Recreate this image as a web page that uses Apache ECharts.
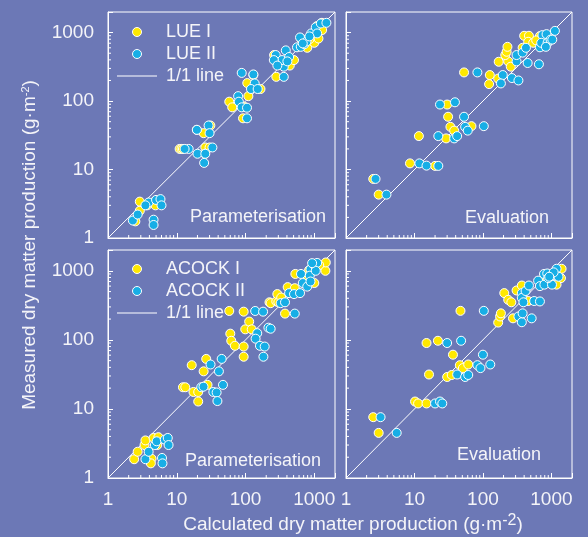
<!DOCTYPE html>
<html>
<head>
<meta charset="utf-8">
<script src="https://cdn.jsdelivr.net/npm/echarts@6/dist/echarts.min.js"></script>
<style>
html,body{margin:0;padding:0;background:#6c78b6;}
#chart{width:588px;height:537px;}
</style>
</head>
<body>
<div id="chart"></div>
<script>
// ---- Data (calculated x, measured y) ----
const lueParamI = [[2.9,3.4],[2.9,2.5],[2.5,1.75],[4.9,3.5],[4.9,3.0],[3.7,3.0],
  [11,20],[11.7,20],[12.3,20],[26,21],[30,21],[24.6,34],[19.6,38],[30.8,44],[25.6,17],
  [58,98],[64,81],[92,56],[110,118],[106,183],[130,240],[165,150],[95,83],
  [280,226],[440,330],[507,397],[324,380],[260,470],
  [790,600],[1000,710],[1150,820],[1290,1390],[1100,1250],[850,800],[640,820],[1300,1090]];
const lueParamII = [[2.3,1.8],[2.7,2.2],[3.9,3.3],[3.5,3.0],[5.0,3.6],[5.8,3.7],[6.0,3.0],[4.6,1.85],[4.6,1.55],
  [14.9,20],[13,20],[19.6,38],[29,44],[30,34],[33,21],[20,17],[25,12.5],[26,17],
  [78,118],[80,98],[88,81],[105,80],[105,56],[88,258],[130,245],[136,181],[120,150],[150,150],
  [360,226],[360,318],[275,470],[340,397],[258,397],[290,330],[385,550],[430,440],[406,380],
  [620,850],[560,610],[636,620],[720,680],[770,740],[900,973],[1050,1200],[1245,1360],[1500,1390],[1100,973],[850,880],[680,695]];

const lueEvalI = [[2.5,7.3],[3.0,4.3],[8.6,12.3],[20,11.3],[11.6,30.8],[29,28.5],[33.5,42],[38,37],[31,59],[68,43],[30,89],
  [53,262],[126,240],[123,177],[167,213],[170,375],[234,380],[212,470],[222,525],[228,620],[255,318],[380,600],
  [400,898],[470,898],[458,735],[543,710],[680,890],[600,770],[810,790]];
const lueEvalII = [[2.7,7.3],[3.9,4.3],[11.8,12.3],[15,11.4],[22.3,11.3],[22.3,30.8],[38,28.5],[42,30.8],[53,59],[55,42],[60,37],[103,43],
  [23.6,89],[39,96],[83,262],[195,240],[183,181],[265,217],[330,200],[310,380],[310,470],[380,510],[425,600],[450,360],[657,345],
  [740,920],[850,950],[680,610],[710,710],[880,710],[973,790],[1125,1060],[1030,790],[830,620]];

const acockParamI = [[2.4,1.87],[2.7,2.4],[3.4,3.0],[3.5,3.5],[4.3,1.9],[4.2,1.63],[4.6,3.8],[5.4,3.9],[5.2,3.0],
  [12.3,20.6],[13.3,20.6],[16.5,43],[17.5,17.6],[20.5,12.8],[20.5,17.6],[24.6,35],[26.8,53],[28,22.3],
  [60,123],[62,97],[70,82],[94,80],[94,57],[99,142],[113,184],[123,142],[58,262],[94,256],
  [223,350],[232,340],[280,360],[290,460],[300,350],[330,410],[375,240],[410,580],[520,560],[530,900],
  [800,850],[1000,665],[1450,1000],[1470,1320],[840,1020],[1180,1210]];
const acockParamII = [[3.5,1.87],[3.9,2.4],[4.8,3.0],[5.1,3.4],[6.7,3.6],[7.4,3.8],[7.6,3.0],[6.1,1.95],[6.2,1.63],
  [22.7,20.6],[24.5,21],[31,44],[34,17.6],[38,17.3],[39,13],[41,35],[45,53],[47,22.3],
  [148,125],[140,104],[162,82],[190,80],[182,57],[215,150],[232,145],[138,262],[180,256],
  [324,340],[375,350],[430,475],[507,460],[520,240],[620,475],[640,900],[680,665],
  [880,1050],[1000,1210],[1100,1300],[860,850],[790,590],[880,700],[1050,1000],[930,1290]];

const acockEvalI = [[2.5,7.6],[3.0,4.5],[10.2,12.8],[11.3,12],[15,12],[16.3,31.5],[30,29],[35,31],
  [36.5,61],[46,43],[51,39],[61,44],[15,90],[22,97],[47,263],
  [167,178],[178,218],[183,242],[275,205],[205,475],[234,380],[260,350],[310,519],[370,612],[458,365],
  [1410,1070],[1380,784],[1190,630],[960,665],[770,700],[1080,875],[850,784]];
const acockEvalII = [[3.2,7.6],[5.5,4.5],[20,12],[23.6,12.8],[25.5,12],[42,31.5],[55,29],[61,31],
  [83,43],[92,39],[128,44],[100,61],[30,90],[48,97],[103,263],
  [330,218],[370,180],[380,242],[515,205],[370,475],[370,405],[390,350],[420,510],[470,612],[560,365],[680,360],
  [1190,1070],[780,900],[870,915],[640,720],[680,600],[790,630],[1020,630],[900,784],[990,840],[1270,820],[1080,950],[930,820]];

const oneToOne = [[1,1],[2000,2000]];
const axisMin = 1, axisMax = 2000;
const minorTicks = [2,3,4,5,6,7,8,9,20,30,40,50,60,70,80,90,200,300,400,500,600,700,800,900];

const names = {
  lue: ['LUE I','LUE II'],
  acock: ['ACOCK I','ACOCK II']
};
const panelLabels = ['Parameterisation','Evaluation','Parameterisation','Evaluation'];

// ---- Styles ----
const FONT = 'Liberation Sans, Arial, sans-serif';
const TXT = '#f4f4f8';
const YELLOW = '#ffe800';
const BLUE = '#17aee6';

const grids = [
  {left:108, top:12, width:227, height:226},
  {left:346, top:12, width:226, height:226},
  {left:108, top:250, width:227, height:228},
  {left:346, top:250, width:226, height:228}
];

function isPow10(v){ const l = Math.log10(v); return Math.abs(l - Math.round(l)) < 1e-6; }

function makeAxis(i, dim, showLabel){
  return {
    type:'log', logBase:10, gridIndex:i, min:axisMin, max:axisMax,
    axisLine:{show:true, lineStyle:{color:'#fff', width:1}},
    axisTick:{show:true, inside:true, length:5, lineStyle:{color:'#fff'}},
    splitLine:{show:false},
    axisLabel:{show:showLabel, color:TXT, fontFamily:FONT, fontSize:19, margin: dim==='x'?12:14,
      showMinLabel:true, showMaxLabel:true,
      formatter:function(v){ return isPow10(v) ? String(Math.round(v)) : ''; }}
  };
}

const xAxes = grids.map((g,i)=>makeAxis(i,'x', i>=2));
const yAxes = grids.map((g,i)=>makeAxis(i,'y', i%2===0));

const panelData = [
  [lueParamI, lueParamII, names.lue],
  [lueEvalI, lueEvalII, names.lue],
  [acockParamI, acockParamII, names.acock],
  [acockEvalI, acockEvalII, names.acock]
];

const series = [];
panelData.forEach((p,i)=>{
  // minor ticks drawn through the axes' own scale
  series.push({
    type:'custom', xAxisIndex:i, yAxisIndex:i, silent:true, clip:false,
    data: minorTicks.map(v=>[v]),
    renderItem:function(params, api){
      const v = api.value(0);
      const px = api.coord([v, axisMin]);
      const py = api.coord([axisMin, v]);
      return {type:'group', children:[
        {type:'line', shape:{x1:px[0], y1:px[1], x2:px[0], y2:px[1]-3}, style:{stroke:'#fff', lineWidth:1}},
        {type:'line', shape:{x1:py[0], y1:py[1], x2:py[0]+3, y2:py[1]}, style:{stroke:'#fff', lineWidth:1}}
      ]};
    }
  });
  series.push({
    name:'1/1 line', type:'line', xAxisIndex:i, yAxisIndex:i, data:oneToOne,
    symbol:'none', showSymbol:false, silent:true, lineStyle:{color:'#fff', width:1}, itemStyle:{color:'#fff'}, z:1
  });
  series.push({
    name:p[2][0], type:'scatter', xAxisIndex:i, yAxisIndex:i, data:p[0],
    symbolSize:9, itemStyle:{color:YELLOW, borderColor:'#fff', borderWidth:1, opacity:1}, z:3
  });
  series.push({
    name:p[2][1], type:'scatter', xAxisIndex:i, yAxisIndex:i, data:p[1],
    symbolSize:9, itemStyle:{color:BLUE, borderColor:'#fff', borderWidth:1, opacity:1}, z:4
  });
});

function legend(top, nm){
  return {
    orient:'vertical', left:117, top:top, padding:0, itemWidth:40, itemHeight:9, itemGap:0,
    selectedMode:false,
    textStyle:{color:TXT, fontFamily:FONT, fontSize:18, lineHeight:22, padding:[0,0,0,4]},
    data:[{name:nm[0], icon:'circle', itemStyle:{borderColor:'#fff', borderWidth:1}},
          {name:nm[1], icon:'circle', itemStyle:{borderColor:'#fff', borderWidth:1}},
          {name:'1/1 line', icon:'path://M0,0 L40,0 L40,1 L0,1 Z', itemStyle:{color:'#fff', borderWidth:0}}]
  };
}

const graphics = [];
const labelPos = [[258,217],[507,218],[253,461],[499,455]];
panelLabels.forEach((t,i)=>{
  graphics.push({type:'text', x:labelPos[i][0], y:labelPos[i][1],
    style:{text:t, fill:TXT, font:'18px '+FONT, textAlign:'center', textVerticalAlign:'middle'}});
});
graphics.push({type:'text', x:30, y:245, rotation:Math.PI/2,
  style:{text:'Measured dry matter production (g·m{sup|-2})', fill:TXT, font:'19px '+FONT,
    textAlign:'center', textVerticalAlign:'middle',
    rich:{sup:{fontSize:11, fill:TXT, fontFamily:FONT, verticalAlign:'top', padding:[0,0,8,0]}}}});
graphics.push({type:'text', x:353, y:525,
  style:{text:'Calculated dry matter production (g·m{sup|-2})', fill:TXT, font:'19px '+FONT,
    textAlign:'center', textVerticalAlign:'middle',
    rich:{sup:{fontSize:16, fill:TXT, fontFamily:FONT, padding:[0,0,8,0]}}}});

const chart = echarts.init(document.getElementById('chart'), null, {renderer:'canvas'});
chart.setOption({
  backgroundColor:'#6c78b6',
  animation:false,
  textStyle:{fontFamily:FONT},
  grid: grids.map(g=>Object.assign({show:true, borderColor:'#fff', borderWidth:1, backgroundColor:'transparent'}, g)),
  xAxis:xAxes,
  yAxis:yAxes,
  legend:[legend(21, names.lue), legend(258, names.acock)],
  series:series,
  graphic:graphics
});
</script>
</body>
</html>
